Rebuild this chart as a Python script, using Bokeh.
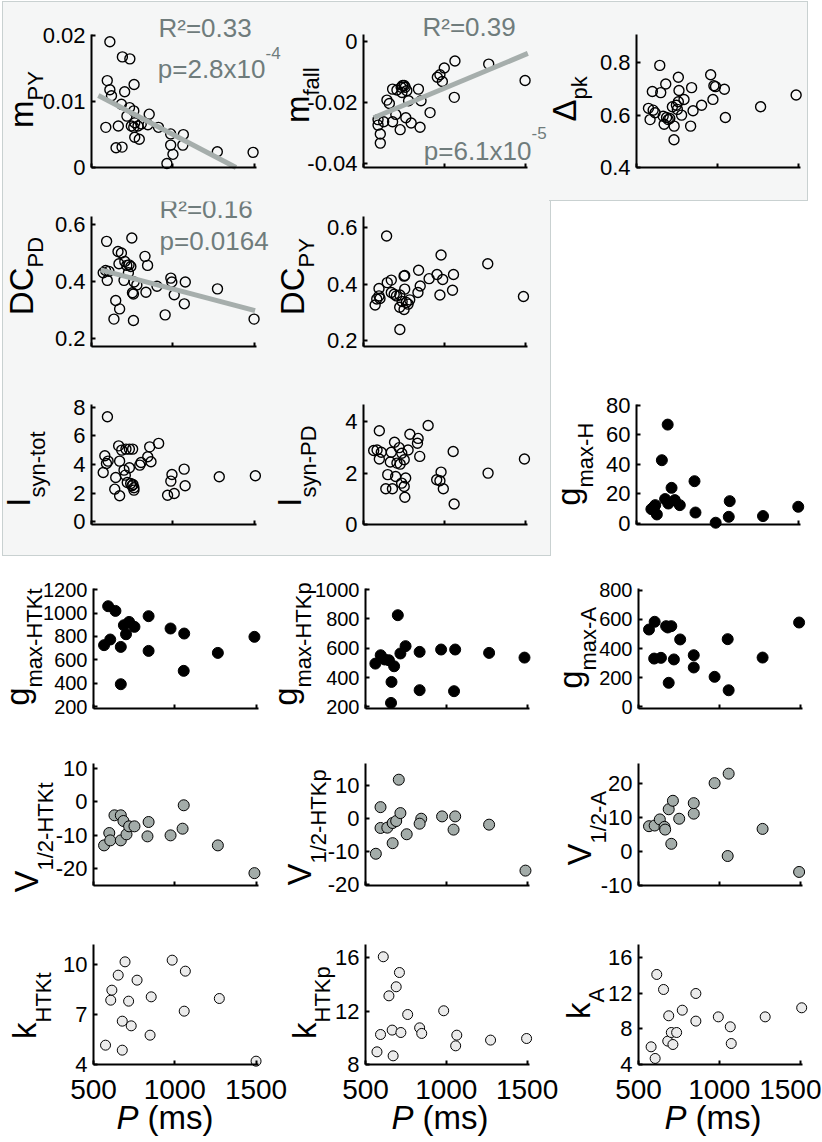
from math import pi
from bokeh.plotting import figure
from bokeh.models import Range1d, FixedTicker, Label, Spacer
from bokeh.layouts import row, column
from bokeh.embed import file_html
from bokeh.resources import INLINE

FONT = "Liberation Sans"
GREY_BG = "#f5f6f6"
BORDER = "1px solid #c9d1d1"
STAT_COLOR = "#6f7c7c"
FIT_COLOR = "#a6aeac"
V_FILL = "#a3aca9"
K_FILL = "#ebebeb"

P_RANGE = (500, 1515)
P_TICKS = [500, 1000, 1500]

# ---------------- data (P in ms) ----------------
mpy_P = [613, 690, 736, 597, 613, 623, 762, 704, 684, 734, 718, 760, 855, 766, 588, 665, 745, 760,
         786, 847, 912, 987, 1065, 766, 794, 651, 688, 987, 1062, 1001, 964, 1274, 1494, 806]
mpy_v = [0.0191, 0.0168, 0.0165, 0.0132, 0.0118, 0.0109, 0.0126, 0.0115, 0.0096, 0.0091, 0.0078,
         0.0086, 0.0081, 0.0068, 0.0061, 0.0063, 0.0063, 0.0061, 0.0063, 0.0065, 0.0061, 0.0051,
         0.0050, 0.0046, 0.0043, 0.0030, 0.0031, 0.0034, 0.0034, 0.0020, 0.0006, 0.0024, 0.0023, 0.0066]
mpy_fit_P = [542, 1389]
mpy_fit_v = [0.01093, 0.0]

mfall_P = [590, 590, 604, 604, 625, 645, 660, 680, 680, 700, 707, 733, 742, 752, 758, 768, 762, 779,
           795, 840, 850, 856, 912, 957, 973, 988, 1000, 1066, 1062, 1275, 1500, 727, 738]
mfall_v = [-0.0256, -0.0274, -0.0303, -0.0333, -0.0263, -0.0192, -0.0203, -0.0156, -0.0263, -0.0239,
           -0.0159, -0.0150, -0.0144, -0.0144, -0.0150, -0.0161, -0.0250, -0.0194, -0.0267, -0.0156,
           -0.0281, -0.0194, -0.0233, -0.0117, -0.0109, -0.0131, -0.0087, -0.0064, -0.0183, -0.0074,
           -0.0128, -0.0289, -0.0167]
mfall_fit_P = [563, 1517]
mfall_fit_v = [-0.0250, -0.0039]

dpk_P = [644, 598, 650, 681, 759, 763, 841, 959, 979, 989, 1044, 973, 903, 794, 759, 747, 722, 753,
         574, 603, 615, 584, 665, 686, 696, 706, 779, 850, 671, 733, 835, 732, 1050, 1268, 1488]
dpk_v = [0.790, 0.690, 0.686, 0.719, 0.745, 0.694, 0.705, 0.754, 0.712, 0.709, 0.699, 0.660, 0.638,
         0.660, 0.651, 0.638, 0.632, 0.622, 0.626, 0.619, 0.609, 0.583, 0.596, 0.591, 0.583, 0.587,
         0.600, 0.617, 0.565, 0.558, 0.558, 0.506, 0.591, 0.632, 0.677]

dcpd_P = [593, 748, 663, 684, 669, 705, 731, 742, 829, 845, 572, 587, 607, 727, 597, 700, 762, 779,
          752, 758, 835, 903, 988, 994, 1077, 1009, 1071, 1275, 649, 673, 638, 758, 953, 1500, 717]
dcpd_v = [0.542, 0.554, 0.506, 0.501, 0.463, 0.471, 0.459, 0.453, 0.489, 0.457, 0.431, 0.439, 0.436,
          0.431, 0.404, 0.404, 0.398, 0.388, 0.360, 0.356, 0.362, 0.383, 0.412, 0.398, 0.398, 0.353,
          0.321, 0.374, 0.333, 0.303, 0.267, 0.262, 0.282, 0.267, 0.457]
dcpd_fit_P = [556, 1506]
dcpd_fit_v = [0.441, 0.297]

dcpy_P = [643, 572, 582, 596, 602, 596, 647, 672, 672, 690, 704, 751, 755, 755, 739, 724, 751, 765,
          786, 837, 851, 841, 906, 955, 980, 990, 1057, 1051, 973, 1269, 1490, 725, 725, 776]
dcpy_v = [0.571, 0.327, 0.348, 0.359, 0.350, 0.385, 0.406, 0.415, 0.371, 0.365, 0.359, 0.429, 0.431,
          0.383, 0.339, 0.319, 0.311, 0.336, 0.345, 0.371, 0.394, 0.450, 0.420, 0.435, 0.504, 0.417,
          0.435, 0.379, 0.362, 0.473, 0.357, 0.240, 0.362, 0.330]

isyn_tot_P = [598, 582, 602, 592, 572, 649, 643, 673, 667, 686, 712, 733, 753, 673, 700, 733, 708, 720,
              741, 755, 761, 761, 749, 797, 805, 846, 858, 866, 913, 995, 988, 968, 1009, 1070, 1076,
              1286, 1508]
isyn_tot_v = [7.34, 4.62, 4.24, 4.08, 3.45, 3.10, 2.28, 1.82, 5.31, 5.01, 5.08, 5.08, 5.08, 4.24, 3.61,
              3.78, 3.26, 2.75, 2.68, 2.61, 2.38, 2.21, 2.52, 3.96, 4.15, 4.55, 5.24, 4.20, 5.48, 3.31,
              2.84, 1.86, 1.98, 3.68, 2.52, 3.15, 3.22]

isyn_pd_P = [598, 563, 584, 610, 598, 672, 666, 692, 721, 737, 707, 727, 752, 776, 787, 838, 834, 848,
             900, 650, 638, 679, 699, 736, 761, 752, 756, 980, 953, 973, 994, 1055, 1061, 1271, 1496]
isyn_pd_v = [3.65, 2.88, 2.90, 2.81, 2.55, 2.81, 2.43, 3.20, 2.99, 2.77, 2.39, 2.35, 2.52, 2.90, 3.51,
             3.35, 3.16, 2.65, 3.85, 1.94, 1.39, 1.39, 1.87, 1.61, 1.81, 1.48, 1.06, 2.04, 1.74, 1.70,
             1.39, 2.84, 0.80, 2.00, 2.55]

gh_P = [693, 657, 592, 616, 626, 677, 697, 717, 737, 768, 859, 865, 990, 1077, 1071, 1283, 1501, 608]
gh_v = [66.9, 42.8, 9.7, 12.4, 6.1, 16.5, 13.5, 24.1, 15.8, 12.4, 28.6, 7.4, 0.5, 15.1, 4.5, 5.0, 11.3, 11.3]

ghtkt_P = [590, 635, 565, 603, 668, 687, 719, 752, 700, 839, 839, 974, 1058, 1055, 668, 1265, 1490]
ghtkt_v = [1058, 1018, 726, 774, 711, 896, 924, 882, 819, 973, 677, 868, 825, 507, 393, 660, 797]

ghtkp_P = [561, 594, 619, 645, 677, 661, 658, 700, 716, 748, 835, 968, 1055, 835, 1048, 1265, 1484]
ghtkp_v = [495, 552, 523, 518, 477, 370, 227, 825, 564, 614, 575, 591, 591, 314, 307, 568, 536]

ga_P = [565, 600, 671, 703, 758, 597, 639, 719, 842, 842, 687, 971, 1052, 1058, 1268, 1494, 681]
ga_v = [530, 583, 553, 553, 462, 331, 336, 325, 354, 270, 165, 206, 464, 114, 338, 578, 544]

vhtkt_P = [565, 597, 603, 629, 668, 684, 668, 703, 719, 752, 839, 832, 974, 1055, 1048, 1265, 1490]
vhtkt_v = [-13.0, -9.3, -11.5, -4.0, -4.0, -5.7, -11.5, -9.7, -7.3, -7.3, -6.0, -10.3, -10.0, -1.0,
           -8.0, -13.0, -21.3]

vhtkp_P = [564, 593, 593, 635, 668, 690, 668, 755, 716, 706, 845, 835, 974, 1055, 1045, 1265, 1490]
vhtkp_v = [-10.7, 3.4, -2.9, -2.8, -1.4, -0.8, -7.5, -4.8, 1.6, 11.7, -0.1, -1.6, 0.6, 0.6, -3.4, -1.9,
           -15.8]

va_P = [565, 600, 632, 661, 665, 687, 713, 703, 752, 842, 842, 971, 1058, 1052, 1268, 1494]
va_v = [7.5, 7.7, 9.5, 7.3, 6.5, 12.5, 15.0, 2.3, 9.7, 11.2, 14.3, 20.2, 23.0, -1.3, 6.7, -6.0]

khtkt_P = [574, 606, 613, 652, 694, 677, 677, 716, 732, 768, 848, 855, 984, 1065, 1058, 1274, 1500]
khtkt_v = [5.16, 7.86, 8.46, 9.36, 10.16, 6.60, 4.86, 7.80, 6.32, 9.06, 5.76, 8.06, 10.26, 9.60, 7.20,
           7.96, 4.20]

khtkp_P = [610, 645, 690, 710, 593, 571, 671, 665, 719, 761, 835, 848, 984, 1065, 1058, 1274, 1497]
khtkp_v = [16.08, 13.15, 13.83, 14.90, 10.25, 8.95, 8.65, 10.58, 10.40, 11.75, 10.75, 10.33, 12.03,
           10.20, 9.40, 9.83, 9.95]

ka_P = [578, 603, 613, 655, 687, 681, 713, 703, 736, 771, 855, 855, 994, 1068, 1074, 1284, 1510]
ka_v = [5.99, 4.68, 14.13, 12.44, 9.48, 6.63, 6.25, 7.60, 7.60, 10.11, 11.99, 8.88, 9.36, 8.24, 6.36,
        9.36, 10.38]

# y ranges / ticks
yr_mpy, yt_mpy = (0, 0.0202), [0, 0.01, 0.02]
yr_mfall, yt_mfall = (-0.0413, 0.0023), [-0.04, -0.02, 0]
yr_dpk, yt_dpk = (0.4, 0.908), [0.4, 0.6, 0.8]
yr_dcpd, yt_dcpd = (0.17, 0.63), [0.2, 0.4, 0.6]
yr_dcpy, yt_dcpy = (0.18, 0.64), [0.2, 0.4, 0.6]
yr_itot, yt_itot = (-0.19, 8.2), [0, 2, 4, 6, 8]
yr_ipd, yt_ipd = (0, 4.67), [0, 2, 4]
yr_gh, yt_gh = (-0.7, 80.5), [0, 20, 40, 60, 80]
yr_ghtkt, yt_ghtkt = (186, 1209), [200, 400, 600, 800, 1000, 1200]
yr_ghtkp, yt_ghtkp = (189, 1007), [200, 400, 600, 800, 1000]
yr_ga, yt_ga = (-11, 811), [0, 200, 400, 600, 800]
yr_vhtkt, yt_vhtkt = (-25, 11.5), [-20, -10, 0, 10]
yr_vhtkp, yt_vhtkp = (-20.3, 16.6), [-20, -10, 0, 10]
yr_va, yt_va = (-10, 26), [-10, 0, 10, 20]
yr_khtkt, yt_khtkt = (4, 11.2), [4, 7, 10]
yr_khtkp, yt_khtkp = (8, 17), [8, 12, 16]
yr_ka, yt_ka = (4, 17.5), [4, 8, 12, 16]

# ---------------- helpers ----------------
# frame geometry in page pixels
COLS_TOP = [(91, 256), (363, 527), (636, 800)]
COLS_BOT = [(93, 258), (365, 529), (638, 802)]
ROWS = [(34, 167), (216, 346), (404, 524), (588, 708), (763, 885), (944, 1064)]
BASE_SHIFT = 0.38   # Bokeh's alphabetic anchor sits this many em above the drawn baseline


class Panel:
    pass


def make_panel(L, T, W, H, c, r, yr, yticks, bg="white", xlabels=False, ysize=22):
    cols = COLS_TOP if r < 3 else COLS_BOT
    FL, FR = cols[c]
    FT, FB = ROWS[r]
    x0, x1 = P_RANGE
    y0, y1 = yr
    sx = (x1 - x0) / (FR - FL)
    sy = (y1 - y0) / (FB - FT)
    xs = x0 - (FL - L) * sx
    xe = x1 + (L + W - FR) * sx
    ys = y0 - (T + H - FB) * sy
    ye = y1 + (FT - T) * sy
    p = figure(width=W, height=H, x_range=Range1d(xs, xe), y_range=Range1d(ys, ye),
               output_backend="svg", toolbar_location=None,
               min_border_left=0, min_border_right=0, min_border_top=0, min_border_bottom=0)
    p.background_fill_color = bg
    p.border_fill_color = bg
    p.outline_line_color = None
    p.xgrid.visible = False
    p.ygrid.visible = False
    for ax in (p.xaxis[0], p.yaxis[0]):
        ax.axis_line_width = 2
        ax.axis_line_color = "black"
        ax.major_tick_line_width = 2
        ax.major_tick_line_color = "black"
        ax.major_tick_in = 4
        ax.major_tick_out = 0
        ax.minor_tick_line_color = None
        ax.major_label_text_font = FONT
        ax.major_label_text_color = "black"
    ya = p.yaxis[0]
    ya.fixed_location = x0
    ya.bounds = (y0, y1)
    ya.ticker = FixedTicker(ticks=yticks)
    ya.major_label_overrides = {t: f"{t:g}" for t in yticks}
    ya.major_label_text_font_size = f"{ysize}px"
    ya.major_label_standoff = 6
    xa = p.xaxis[0]
    xa.fixed_location = y0
    xa.bounds = (x0, x1)
    xa.ticker = FixedTicker(ticks=P_TICKS)
    if xlabels:
        xa.major_label_overrides = {t: str(t) for t in P_TICKS}
        xa.major_label_text_font_size = "28px"
        xa.major_label_standoff = 15
    else:
        xa.major_label_overrides = {t: "" for t in P_TICKS}
        xa.major_label_text_font_size = "1px"
        xa.major_label_standoff = 0
    pn = Panel()
    pn.p, pn.L, pn.B = p, L, T + H
    return pn


def add_text(pn, x, y, text, size, color="black", angle=0.0, align="left", style="normal"):
    shift = BASE_SHIFT * size
    if angle == 0.0:
        y -= shift
    else:
        x -= shift
    pn.p.add_layout(Label(x=x - pn.L, y=pn.B - y, x_units="screen", y_units="screen",
                          text=text, angle=angle, text_align=align, text_baseline="alphabetic",
                          text_font=FONT, text_font_size=f"{size}px", text_color=color,
                          text_font_style=style))


def ylabel(pn, bx, yj, main, sub, dsub=13):
    add_text(pn, bx, yj, main, 33, angle=pi / 2, align="right")
    add_text(pn, bx + dsub, yj, sub, 22, angle=pi / 2, align="left")


def open_pts(pn, x, y):
    pn.p.scatter(x, y, marker="circle", size=10, fill_alpha=0, line_color="black", line_width=1.4)


def fill_pts(pn, x, y, color, size=11):
    pn.p.scatter(x, y, marker="circle", size=size, fill_color=color, line_color="black", line_width=1)


def fit(pn, x, y):
    pn.p.line(x, y, line_color=FIT_COLOR, line_width=5)


# ---------------- row 1 (grey) ----------------
f11 = make_panel(3, 2, 279, 199, 0, 0, yr_mpy, yt_mpy, GREY_BG)
open_pts(f11, mpy_P, mpy_v)
fit(f11, mpy_fit_P, mpy_fit_v)
ylabel(f11, 34, 100, "m", "PY", dsub=9)
add_text(f11, 158, 37, "R²=0.33", 26, STAT_COLOR)
add_text(f11, 265, 78, "p=2.8x10", 26, STAT_COLOR, align="right")
add_text(f11, 265, 59, "-4", 17, STAT_COLOR)

f12 = make_panel(282, 2, 267, 199, 1, 0, yr_mfall, yt_mfall, GREY_BG)
open_pts(f12, mfall_P, mfall_v)
fit(f12, mfall_fit_P, mfall_fit_v)
ylabel(f12, 310, 95, "m", "fall", dsub=9)
add_text(f12, 422, 36, "R²=0.39", 26, STAT_COLOR)
add_text(f12, 531, 160, "p=6.1x10", 26, STAT_COLOR, align="right")
add_text(f12, 531, 139, "-5", 17, STAT_COLOR)

f13 = make_panel(549, 2, 258, 198, 2, 0, yr_dpk, yt_dpk, GREY_BG)
open_pts(f13, dpk_P, dpk_v)
ylabel(f13, 577, 99, "Δ", "pk", dsub=10)

# ---------------- row 2 (grey) ----------------
f21 = make_panel(3, 201, 269, 170, 0, 1, yr_dcpd, yt_dcpd, GREY_BG)
open_pts(f21, dcpd_P, dcpd_v)
fit(f21, dcpd_fit_P, dcpd_fit_v)
ylabel(f21, 34, 267, "DC", "PD", dsub=9)
add_text(f21, 159, 218, "R²=0.16", 26, STAT_COLOR)
add_text(f21, 159, 250, "p=0.0164", 26, STAT_COLOR)

f22 = make_panel(272, 201, 278, 170, 1, 1, yr_dcpy, yt_dcpy, GREY_BG)
open_pts(f22, dcpy_P, dcpy_v)
ylabel(f22, 305, 267, "DC", "PY", dsub=9)

# ---------------- row 3 ----------------
f31 = make_panel(3, 371, 269, 184, 0, 2, yr_itot, yt_itot, GREY_BG)
open_pts(f31, isyn_tot_P, isyn_tot_v)
ylabel(f31, 31, 497, "I", "syn-tot", dsub=14)

f32 = make_panel(272, 371, 278, 184, 1, 2, yr_ipd, yt_ipd, GREY_BG)
open_pts(f32, isyn_pd_P, isyn_pd_v)
ylabel(f32, 302, 497, "I", "syn-PD", dsub=14)

f33 = make_panel(551, 371, 270, 185, 2, 2, yr_gh, yt_gh)
fill_pts(f33, gh_P, gh_v, "black")
ylabel(f33, 581, 487, "g", "max-H", dsub=12)

# ---------------- row 4 ----------------
f41 = make_panel(0, 556, 265, 174, 0, 3, yr_ghtkt, yt_ghtkt, ysize=20)
fill_pts(f41, ghtkt_P, ghtkt_v, "black")
ylabel(f41, 30, 687, "g", "max-HTKt", dsub=12)

f42 = make_panel(265, 556, 287, 174, 1, 3, yr_ghtkp, yt_ghtkp, ysize=20)
fill_pts(f42, ghtkp_P, ghtkp_v, "black")
ylabel(f42, 298, 687, "g", "max-HTKp", dsub=13)

f43 = make_panel(552, 556, 269, 174, 2, 3, yr_ga, yt_ga, ysize=20)
fill_pts(f43, ga_P, ga_v, "black")
ylabel(f43, 583, 670, "g", "max-A", dsub=13)

# ---------------- row 5 ----------------
f51 = make_panel(0, 730, 280, 180, 0, 4, yr_vhtkt, yt_vhtkt)
fill_pts(f51, vhtkt_P, vhtkt_v, V_FILL)
ylabel(f51, 39, 870, "V", "1/2-HTKt", dsub=14)

f52 = make_panel(280, 730, 279, 180, 1, 4, yr_vhtkp, yt_vhtkp)
fill_pts(f52, vhtkp_P, vhtkp_v, V_FILL)
ylabel(f52, 312, 863, "V", "1/2-HTKp", dsub=14)

f53 = make_panel(559, 730, 262, 180, 2, 4, yr_va, yt_va)
fill_pts(f53, va_P, va_v, V_FILL)
ylabel(f53, 592, 843, "V", "1/2-A", dsub=14)

# ---------------- row 6 ----------------
f61 = make_panel(0, 910, 287, 230, 0, 5, yr_khtkt, yt_khtkt, xlabels=True)
fill_pts(f61, khtkt_P, khtkt_v, K_FILL, size=10)
ylabel(f61, 37, 1022, "k", "HTKt", dsub=14)

f62 = make_panel(287, 910, 272, 230, 1, 5, yr_khtkp, yt_khtkp, xlabels=True)
fill_pts(f62, khtkp_P, khtkp_v, K_FILL, size=10)
ylabel(f62, 317, 1022, "k", "HTKp", dsub=13)

f63 = make_panel(559, 910, 262, 230, 2, 5, yr_ka, yt_ka, xlabels=True)
fill_pts(f63, ka_P, ka_v, K_FILL, size=10)
ylabel(f63, 591, 1002, "k", "A", dsub=13)

for pn, cx in ((f61, 165), (f62, 440), (f63, 713)):
    start = cx - 49
    add_text(pn, start, 1130, "P", 33, style="italic")
    add_text(pn, start + 31, 1130, "(ms)", 33)

# ---------------- layout ----------------
top_block = row(f11.p, f12.p, column(f13.p, styles={"border-bottom": BORDER}),
                styles={"border-top": BORDER, "border-left": BORDER, "border-right": BORDER,
                        "background-color": GREY_BG})
mid_block = column(row(f21.p, f22.p), row(f31.p, f32.p),
                   styles={"border-left": BORDER, "border-right": BORDER, "border-bottom": BORDER,
                           "background-color": GREY_BG})
right_block = column(Spacer(width=270, height=170), f33.p)

root = column(
    Spacer(width=10, height=1),
    row(Spacer(width=2, height=10), top_block),
    row(Spacer(width=2, height=10), mid_block, right_block),
    row(f41.p, f42.p, f43.p),
    row(f51.p, f52.p, f53.p),
    row(f61.p, f62.p, f63.p),
)

open("out.html", "w").write(file_html(root, INLINE))
